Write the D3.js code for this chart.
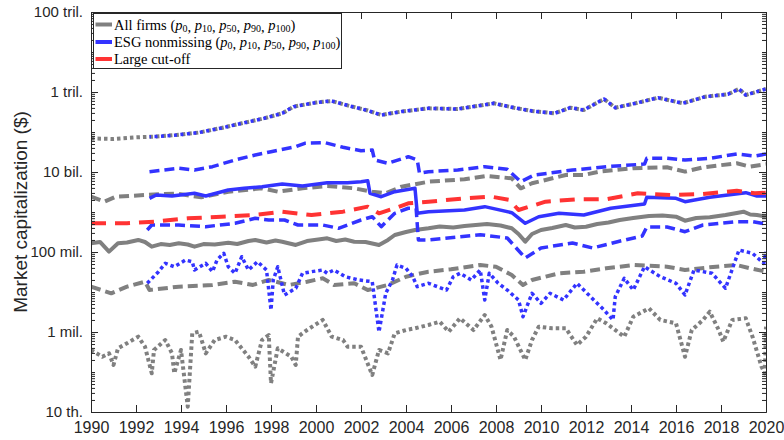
<!DOCTYPE html>
<html><head><meta charset="utf-8">
<script src="https://cdn.jsdelivr.net/npm/d3@7"></script>
<style>body{margin:0;background:#fff} svg{display:block}</style>
</head><body>
<svg id="c" width="784" height="440"></svg>
<script>
// ---- DATA (market capitalization, millions of $) ----
const xTicks = [1990,1992,1994,1996,1998,2000,2002,2004,2006,2008,2010,2012,2014,2016,2018,2020];
const yTicks = [1e4,1e6,1e8,1e10,1e12,1e14];
const yTickLabels = ["10 th.","1 mil.","100 mil.","10 bil.","1 tril.","100 tril."];
const legendLabels = ["All firms","ESG nonmissing","Large cut-off"];
const pctLabels = ["0","10","50","90","100"];

// All firms
const allP100Year = [1990.0,1991.0,1991.9,1992.9,1993.8,1994.8,1995.8,1996.7,1997.7,1998.5,1999.0,2000.0,2000.7,2001.5,2002.3,2002.9,2003.8,2005.0,2006.3,2007.9,2008.8,2009.6,2010.6,2011.3,2011.9,2012.8,2013.3,2014.2,2015.2,2016.3,2017.3,2018.3,2018.8,2019.1,2020.0];
const allP100 = [6.9e4,6.7e4,7.3e4,7.7e4,8.4e4,9.7e4,1.26e5,1.65e5,2.2e5,2.93e5,4.29e5,5.46e5,5.96e5,4.47e5,3.45e5,2.66e5,3.25e5,3.91e5,3.76e5,5.22e5,4.05e5,3.35e5,2.93e5,4.05e5,3.55e5,6.68e5,4.05e5,5.22e5,7.2e5,5.22e5,7.63e5,8.76e5,1.19e6,8.41e5,1.19e6];

const allP90Year = [1990.0,1990.6,1991.1,1992.4,1993.8,1994.9,1996.1,1997.6,1998.3,1999.4,2000.5,2001.7,2002.5,2003.1,2003.8,2005.0,2006.6,2007.6,2008.7,2009.1,2009.6,2011.1,2011.9,2012.6,2014.1,2015.6,2016.4,2017.2,2018.7,2019.3,2020.0];
const allP90 = [2.41e3,1.81e3,2.41e3,2.66e3,2.9e3,2.33e3,3.22e3,3.91e3,3.22e3,3.91e3,4.47e3,3.91e3,3.22e3,2.93e3,4.29e3,5.72e3,6.57e3,7.94e3,6.96e3,3.91e3,5.22e3,8.41e3,8.41e3,1.02e4,1.24e4,1.31e4,1.02e4,1.31e4,1.65e4,1.36e4,1.58e4];

const allP50Year = [1990.0,1990.4,1990.8,1991.2,1991.6,1992.1,1992.4,1992.7,1993.1,1993.5,1993.9,1994.3,1994.6,1995.0,1995.5,1996.1,1996.5,1997.0,1997.3,1997.8,1998.2,1998.5,1999.1,1999.6,2000.1,2000.5,2000.9,2001.3,2001.7,2002.2,2002.8,2003.2,2003.5,2004.0,2004.4,2005.0,2005.5,2006.1,2006.6,2007.1,2007.6,2008.2,2008.7,2009.0,2009.3,2009.6,2010.0,2010.5,2011.1,2011.5,2012.0,2012.5,2013.0,2013.5,2014.1,2014.8,2015.4,2016.0,2016.4,2016.9,2017.5,2018.2,2018.7,2019.0,2019.3,2019.6,2020.0];
const allP50 = [165,178,102,165,173,200,178,136,158,150,165,154,136,158,154,171,158,188,200,173,194,181,150,188,205,220,188,205,181,178,150,200,266,316,355,391,434,410,447,473,501,460,391,282,181,282,355,398,473,410,429,501,546,631,708,794,818,763,606,708,737,841,944,1017,866,841,763];

const allP10Year = [1990.0,1990.9,1991.6,1992.4,1992.6,1993.9,1995.4,1996.4,1997.2,1997.9,1998.8,1999.6,2000.3,2000.8,2001.7,2002.3,2003.2,2004.0,2005.0,2006.0,2007.3,2008.0,2008.7,2009.2,2009.6,2010.8,2011.9,2012.9,2014.1,2015.6,2016.4,2017.5,2018.7,2019.3,2020.0];
const allP10 = [13.6,9.28,13.6,18.1,11.2,13.6,15.0,18.1,15.0,20.0,15.0,18.1,22.0,15.0,16.5,11.2,15.0,24.1,32.2,36.9,47.3,42.9,26.6,15.0,20.0,29.3,32.2,39.1,47.3,42.9,35.5,41.4,47.3,39.1,32.2];

const allP0Year = [1990.0,1990.5,1990.8,1991.0,1991.2,1991.6,1992.1,1992.4,1992.7,1992.8,1993.3,1993.6,1993.7,1994.0,1994.3,1994.5,1994.8,1995.1,1995.5,1996.0,1996.4,1997.0,1997.3,1997.6,1997.9,1998.0,1998.3,1998.9,1999.1,1999.2,1999.6,2000.3,2000.7,2001.2,2001.4,2002.0,2002.5,2002.8,2003.2,2003.5,2004.0,2004.4,2005.0,2005.5,2005.9,2006.4,2007.0,2007.5,2007.8,2008.2,2008.5,2008.8,2009.3,2009.6,2009.9,2010.5,2011.1,2011.6,2012.0,2012.5,2012.9,2013.7,2014.1,2014.8,2015.3,2016.0,2016.4,2016.7,2017.2,2017.5,2017.9,2018.1,2018.5,2019.1,2019.4,2019.8,2019.95,2020.0];
const allP0 = [0.355,0.241,0.293,0.150,0.391,0.522,0.763,0.429,0.0928,0.355,0.631,0.293,0.0928,0.355,0.0136,0.928,1.02,0.293,0.631,0.763,0.631,0.241,0.136,0.631,0.841,0.0522,0.391,0.241,0.150,0.763,1.12,2.0,0.763,0.631,0.429,0.429,0.0841,0.355,0.293,0.928,1.12,1.24,1.50,1.81,1.02,2.20,1.12,2.66,1.36,0.2,1.12,0.763,0.2,0.631,1.36,1.24,1.24,0.473,0.763,2.20,1.65,0.763,2.41,3.91,2.0,1.65,0.241,1.12,2.0,3.22,1.12,0.572,2.0,2.20,0.763,0.136,0.0928,1.36];

// ESG nonmissing
const esgP100Year = [1992.6,1992.9,1993.8,1994.8,1995.8,1996.7,1997.7,1998.5,1999.0,2000.0,2000.7,2001.5,2002.3,2002.9,2003.8,2005.0,2006.3,2007.9,2008.8,2009.6,2010.6,2011.3,2011.9,2012.8,2013.3,2014.2,2015.2,2016.3,2017.3,2018.3,2018.8,2019.1,2020.0];
const esgP100 = [7.6e4,7.7e4,8.4e4,9.7e4,1.26e5,1.65e5,2.2e5,2.93e5,4.29e5,5.46e5,5.96e5,4.47e5,3.45e5,2.66e5,3.25e5,3.91e5,3.76e5,5.22e5,4.05e5,3.35e5,2.93e5,4.05e5,3.55e5,6.68e5,4.05e5,5.22e5,7.2e5,5.22e5,7.63e5,8.76e5,1.19e6,8.41e5,1.19e6];

const esgP90Year = [1992.6,1993.9,1994.6,1995.4,1996.4,1997.3,1998.0,1999.1,1999.5,2000.4,2001.2,2002.0,2002.5,2002.6,2003.2,2004.1,2004.5,2004.6,2005.0,2006.3,2007.5,2008.5,2009.1,2009.7,2011.4,2012.9,2014.6,2014.7,2015.6,2016.4,2017.5,2018.7,2019.5,2020.0];
const esgP90 = [1.02e4,1.24e4,1.12e4,1.36e4,2.0e4,2.66e4,3.22e4,4.29e4,5.22e4,5.4e4,4.14e4,3.41e4,3.55e4,2.0e4,1.65e4,2.41e4,2.0e4,9.28e3,1.02e4,1.12e4,1.36e4,1.17e4,5.72e3,8.41e3,1.12e4,1.36e4,1.58e4,2.2e4,2.2e4,2.0e4,2.2e4,2.82e4,2.51e4,2.82e4];

const esgP50Year = [1992.6,1992.9,1993.6,1994.6,1995.1,1996.1,1996.8,1997.6,1998.5,1999.4,2000.5,2001.4,2002.0,2002.3,2002.4,2002.9,2003.5,2004.4,2004.5,2005.0,2006.6,2007.5,2008.7,2009.3,2009.9,2010.8,2011.9,2013.1,2014.6,2014.7,2016.0,2016.4,2017.5,2019.1,2019.6,2020.0];
const esgP50 = [2.2e3,2.66e3,2.51e3,2.93e3,2.51e3,3.55e3,3.91e3,4.29e3,5.01e3,4.47e3,5.4e3,5.4e3,5.72e3,6.06e3,2.93e3,2.41e3,3.22e3,3.91e3,928,1.02e3,1.12e3,1.36e3,960,522,763,928,841,1.24e3,1.58e3,2.33e3,2.2e3,1.81e3,2.33e3,3.04e3,2.51e3,2.51e3];

const esgP10Year = [1992.5,1992.7,1993.9,1995.1,1996.4,1997.3,1997.9,1998.6,1999.2,2000.3,2001.0,2002.0,2002.5,2002.9,2003.5,2004.1,2004.45,2004.55,2005.0,2007.3,2008.5,2009.3,2010.0,2011.4,2012.3,2013.4,2014.5,2014.7,2015.6,2016.4,2017.2,2018.7,2019.4,2020.0];
const esgP10 = [355,473,473,429,522,696,631,631,473,473,391,631,763,429,928,1.24e3,1.24e3,200,200,270,224,70.8,126,168,126,181,251,422,422,322,473,572,572,501];

const esgP0Year = [1992.5,1993.0,1993.3,1993.7,1994.2,1994.5,1994.6,1995.1,1995.4,1995.6,1995.9,1996.1,1996.4,1996.7,1997.0,1997.4,1997.8,1998.0,1998.1,1998.3,1998.6,1999.1,1999.4,1999.8,2000.3,2000.5,2000.8,2001.3,2001.9,2002.5,2002.8,2003.1,2003.4,2003.6,2004.0,2004.3,2004.5,2005.0,2005.8,2006.1,2006.4,2006.9,2007.3,2007.5,2007.7,2008.1,2008.5,2009.0,2009.2,2009.6,2010.0,2010.4,2011.0,2011.6,2012.2,2012.8,2013.2,2013.3,2013.7,2014.1,2014.6,2015.3,2016.0,2016.4,2016.8,2017.6,2018.2,2018.8,2019.4,2019.9,2020.0];
const esgP0 = [16.5,32.2,52.2,42.9,63.1,57.2,35.5,52.2,32.2,63.1,92.8,42.9,29.3,76.3,35.5,57.2,35.5,3.55,20.0,42.9,8.41,12.4,29.3,32.2,35.5,29.3,35.5,24.1,20.0,18.1,1.0,9.28,20.0,47.3,39.1,24.1,13.6,16.5,11.2,24.1,29.3,20.0,35.5,6.31,29.3,16.5,11.2,6.31,2.41,9.28,5.22,9.28,6.31,16.5,7.63,3.55,2.0,7.63,22.0,11.2,42.9,24.1,16.5,8.41,35.5,29.3,12.4,112,92.8,52.2,102];

// Large cut-off
const largeYear = [1990.0,1991.6,1992.8,1994.3,1995.8,1997.3,1998.5,1999.8,2001.2,2002.3,2002.8,2003.5,2004.1,2005.0,2006.6,2007.8,2008.6,2009.0,2010.2,2011.6,2012.9,2014.3,2015.8,2017.2,2018.7,2019.5,2020.0];
const large = [522,522,572,696,763,841,1.02e3,841,1.02e3,1.36e3,928,1.24e3,1.65e3,1.81e3,2.2e3,2.41e3,2.0e3,1.12e3,1.81e3,2.08e3,2.08e3,2.93e3,2.66e3,2.82e3,3.41e3,2.93e3,3.04e3];

// ---- CHART ----
const svg = d3.select('#c');
const L = 91, R = 766, T = 12, B = 412;
const AX = '#262626';
const GRAY = '#808080', BLUE = '#3333ff', RED = '#ff3333';
const x = d3.scaleLinear().domain([1990, 2020]).range([L, R]);
const y = d3.scaleLog().domain([1e4, 1e14]).range([B, T]);

svg.append('defs').append('clipPath').attr('id', 'clip')
  .append('rect').attr('x', L).attr('y', T).attr('width', R - L).attr('height', B - T);

const line = d3.line().x(d => x(d[0])).y(d => y(d[1] * 1e6));
const plot = svg.append('g').attr('clip-path', 'url(#clip)');
function draw(yrs, vals, color, w, dash, off) {
  plot.append('path')
    .datum(yrs.map((t, i) => [t, vals[i]]))
    .attr('d', line)
    .attr('fill', 'none')
    .attr('stroke', color)
    .attr('stroke-width', w)
    .attr('stroke-dasharray', dash)
    .attr('stroke-dashoffset', off || 0)
    .attr('stroke-linecap', 'butt')
    .attr('stroke-linejoin', 'round');
}
const DOT = '3.5,3', DASH = '10,5', SOLID = null;
// All firms
draw(allP0Year, allP0, GRAY, 4, DOT);
draw(allP10Year, allP10, GRAY, 4, DASH);
draw(allP50Year, allP50, GRAY, 4, SOLID);
draw(allP90Year, allP90, GRAY, 4, DASH);
draw(allP100Year, allP100, GRAY, 4, DOT);
// ESG nonmissing
draw(esgP0Year, esgP0, BLUE, 3.5, DOT);
draw(esgP10Year, esgP10, BLUE, 3.5, DASH);
draw(esgP50Year, esgP50, BLUE, 3.5, SOLID);
draw(esgP90Year, esgP90, BLUE, 3.5, DASH);
draw(esgP100Year, esgP100, BLUE, 3.5, '3,3.5', 1.5);
// Large cut-off
draw(largeYear, large, RED, 4, '15,9');

// ---- AXES ----
const minorTicks = [];
for (let e = 4; e < 14; e++) for (let k = 1; k <= 9; k++) {
  const v = k * Math.pow(10, e);
  if (!yTicks.includes(v)) minorTicks.push(v);
}
function styleAxis(g) {
  g.selectAll('path.domain').attr('stroke', AX).attr('stroke-width', 1);
  g.selectAll('.tick line').attr('stroke', AX).attr('stroke-width', 1);
  g.selectAll('text').attr('fill', AX).attr('font-family', "'Liberation Sans', Arial, sans-serif");
}
const gx = svg.append('g').attr('transform', `translate(0,${B})`)
  .call(d3.axisBottom(x).tickValues(xTicks).tickFormat(d3.format('d')).tickSizeInner(-7).tickSizeOuter(0).tickPadding(10));
styleAxis(gx); gx.selectAll('text').attr('font-size', 16);
const gxt = svg.append('g').attr('transform', `translate(0,${T})`)
  .call(d3.axisTop(x).tickValues(xTicks).tickFormat('').tickSizeInner(-7).tickSizeOuter(0));
styleAxis(gxt);
const gy = svg.append('g').attr('transform', `translate(${L},0)`)
  .call(d3.axisLeft(y).tickValues(yTicks).tickFormat((d, i) => yTickLabels[i]).tickSizeInner(-7).tickSizeOuter(0).tickPadding(8));
styleAxis(gy); gy.selectAll('text').attr('font-size', 15);
const gym = svg.append('g').attr('transform', `translate(${L},0)`)
  .call(d3.axisLeft(y).tickValues(minorTicks).tickFormat('').tickSizeInner(-4).tickSizeOuter(0));
styleAxis(gym);
const gyr = svg.append('g').attr('transform', `translate(${R},0)`)
  .call(d3.axisRight(y).tickValues(yTicks).tickFormat('').tickSizeInner(-7).tickSizeOuter(0));
styleAxis(gyr);
const gyrm = svg.append('g').attr('transform', `translate(${R},0)`)
  .call(d3.axisRight(y).tickValues(minorTicks).tickFormat('').tickSizeInner(-4).tickSizeOuter(0));
styleAxis(gyrm);

svg.append('text')
  .attr('transform', `translate(27,${(T + B) / 2}) rotate(-90)`)
  .attr('text-anchor', 'middle')
  .attr('font-family', "'Liberation Sans', Arial, sans-serif")
  .attr('font-size', 19).attr('fill', AX)
  .text('Market capitalization ($)');

// ---- LEGEND ----
const lg = svg.append('g');
lg.append('rect').attr('x', 93.5).attr('y', 13.5).attr('width', 248).attr('height', 55)
  .attr('fill', '#fff').attr('stroke', AX).attr('stroke-width', 1);
const legColors = [GRAY, BLUE, RED];
const legBase = [29.5, 47, 64];
legendLabels.forEach((lab, i) => {
  lg.append('line').attr('x1', 95.5).attr('x2', 112).attr('y1', legBase[i] - 5).attr('y2', legBase[i] - 5)
    .attr('stroke', legColors[i]).attr('stroke-width', 4);
  const t = lg.append('text').attr('x', 114).attr('y', legBase[i])
    .attr('font-family', "'Liberation Serif', 'Times New Roman', serif")
    .attr('font-size', 14.5).attr('fill', '#000');
  if (i < 2) {
    t.append('tspan').text(lab + ' (');
    pctLabels.forEach((p, j) => {
      t.append('tspan').attr('font-style', 'italic').attr('dy', j === 0 ? 0 : -2).text('p');
      t.append('tspan').attr('font-size', 10).attr('dy', 2).text(p);
      if (j < pctLabels.length - 1) t.append('tspan').text(', ');
    });
    t.append('tspan').attr('dy', -2).text(')');
  } else {
    t.text(lab);
  }
});
</script>
</body></html>
